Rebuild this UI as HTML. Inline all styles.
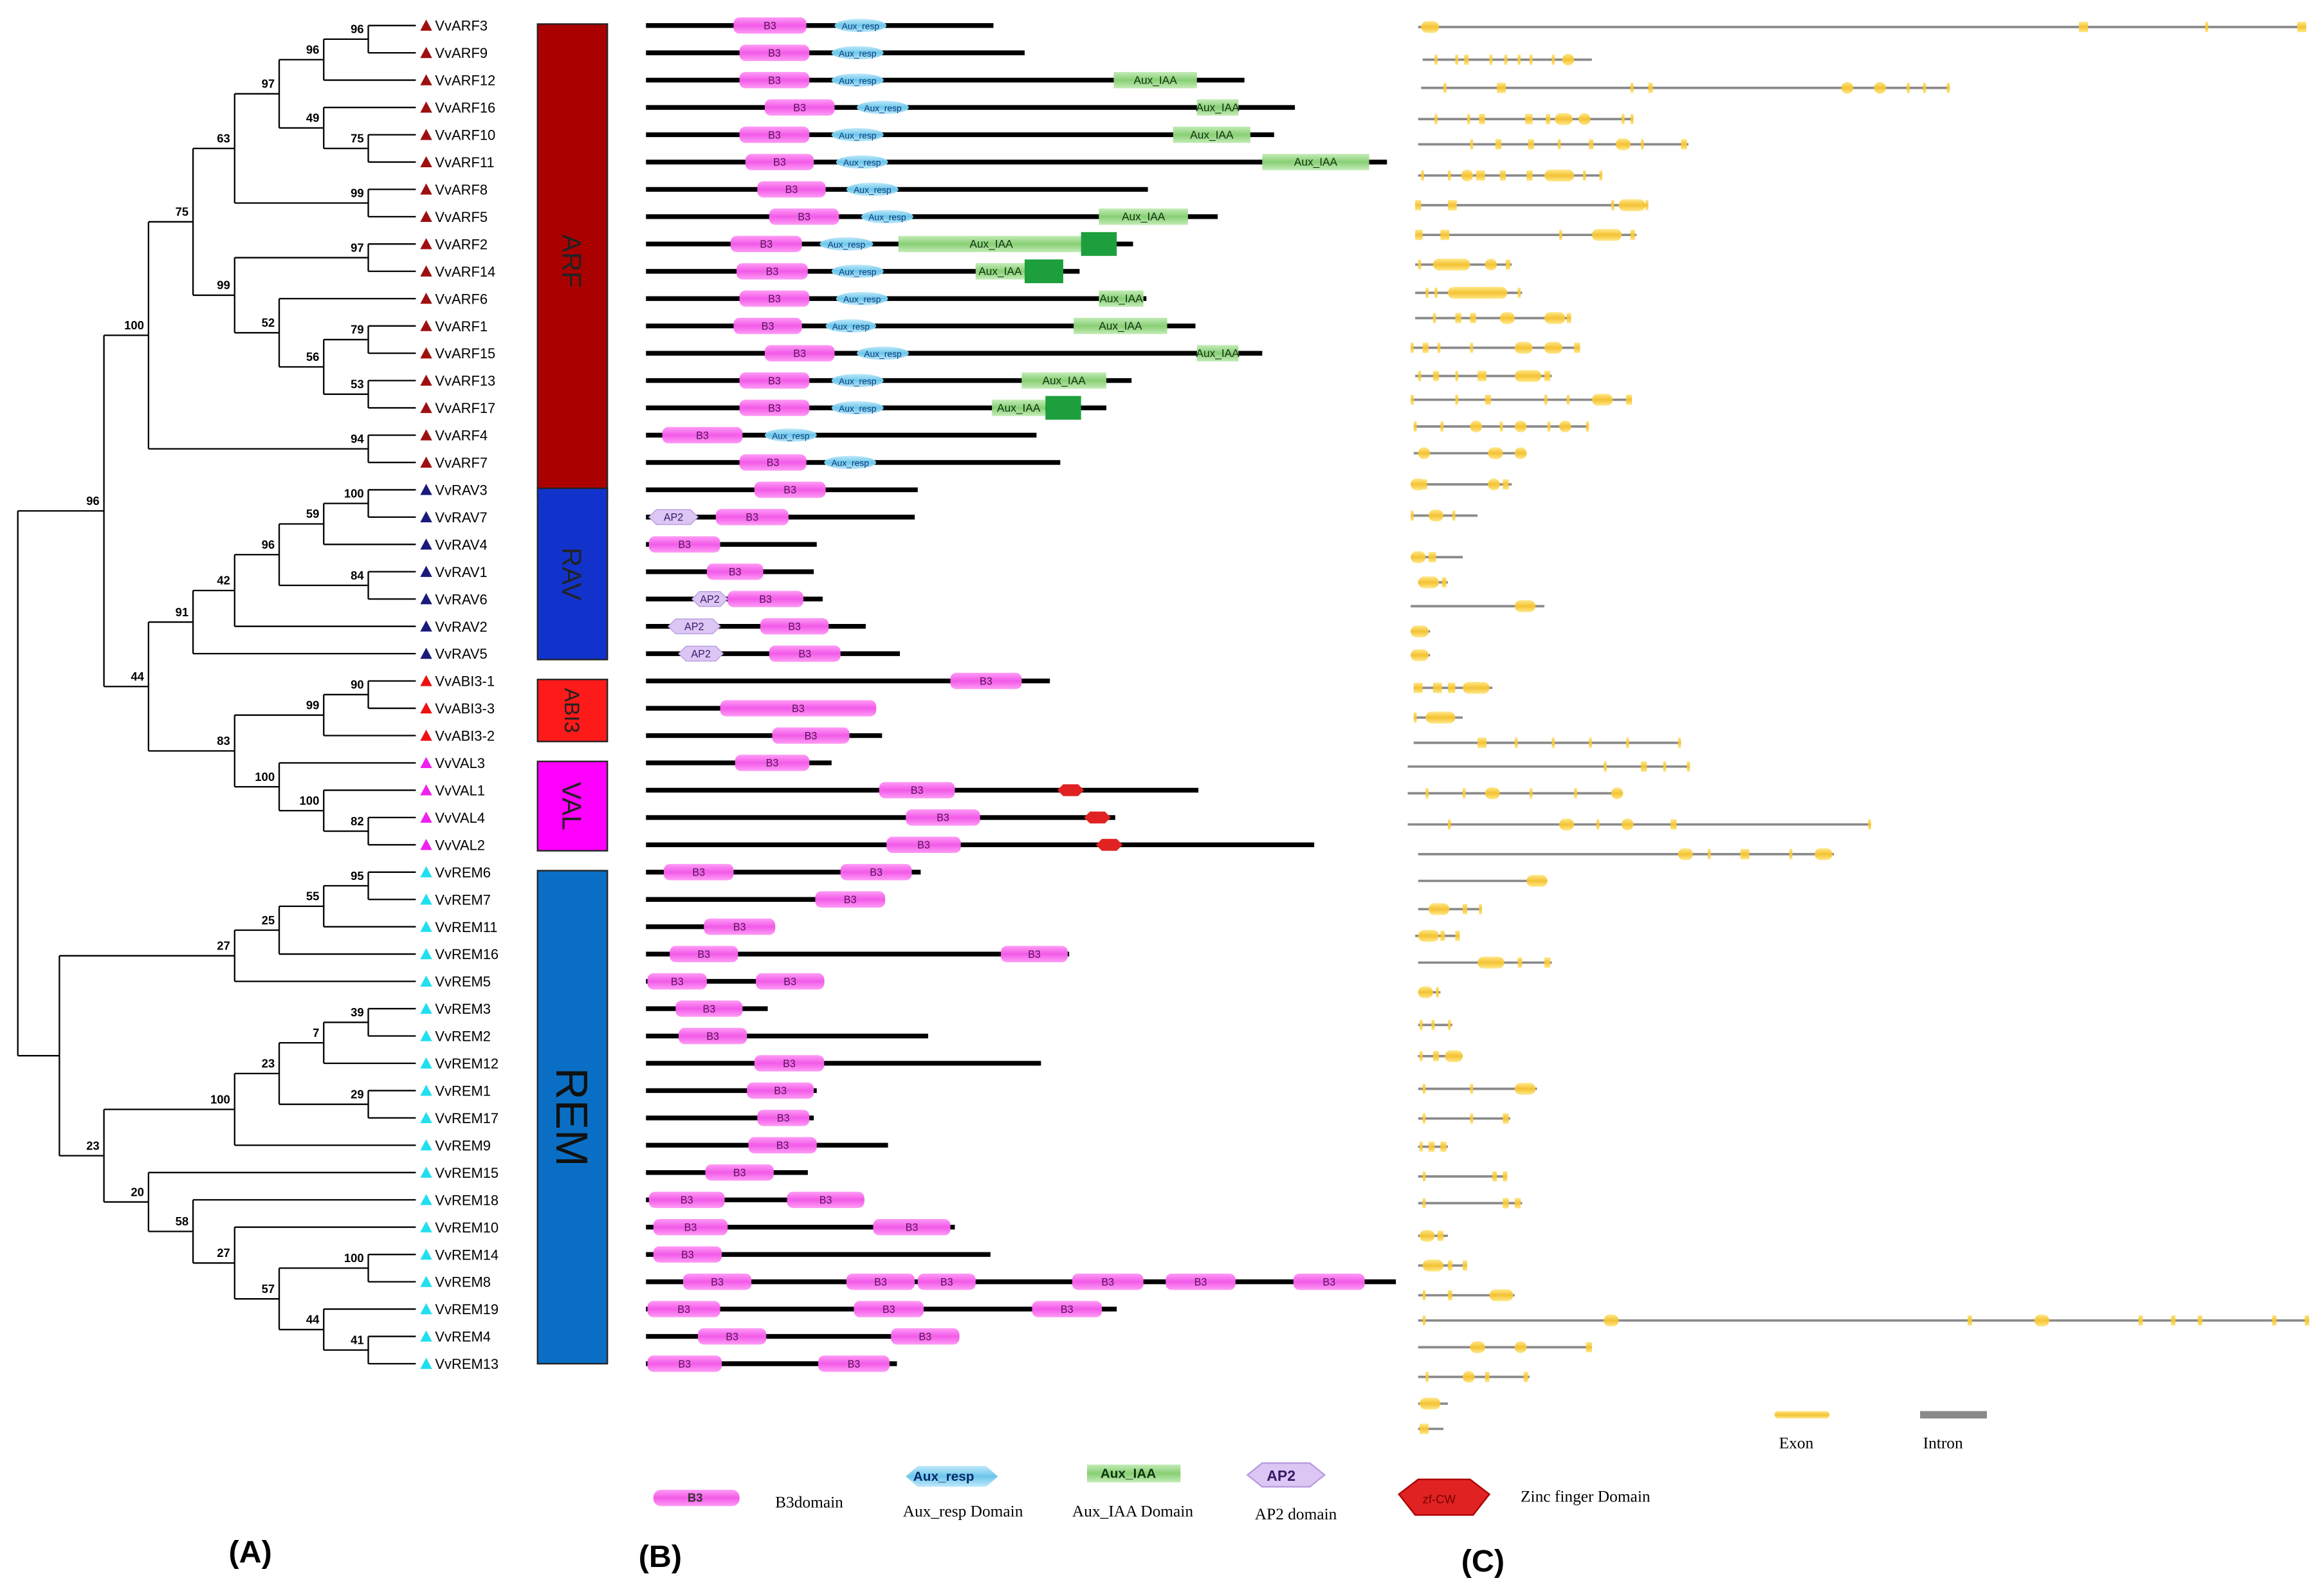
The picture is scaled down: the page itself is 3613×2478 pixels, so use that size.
<!DOCTYPE html>
<html><head><meta charset="utf-8"><style>
html,body{margin:0;padding:0;background:#fff}
svg{display:block}
text{font-family:"Liberation Sans",sans-serif}
</style></head><body>
<svg id="fig" width="3613" height="2478" viewBox="0 0 1565 1073" xmlns="http://www.w3.org/2000/svg">
<defs>
<linearGradient id="gB3" x1="0" y1="0" x2="0" y2="1"><stop offset="0" stop-color="#ff9cf6"/><stop offset="0.5" stop-color="#f25ae8"/><stop offset="1" stop-color="#ff9cf6"/></linearGradient>
<linearGradient id="gResp" x1="0" y1="0" x2="0" y2="1"><stop offset="0" stop-color="#bfe9fb"/><stop offset="0.5" stop-color="#6cc6ea"/><stop offset="1" stop-color="#bfe9fb"/></linearGradient>
<linearGradient id="gIAA" x1="0" y1="0" x2="0" y2="1"><stop offset="0" stop-color="#c4ecb8"/><stop offset="0.5" stop-color="#88cf74"/><stop offset="1" stop-color="#c4ecb8"/></linearGradient>
<linearGradient id="gEx" x1="0" y1="0" x2="0" y2="1"><stop offset="0" stop-color="#ffe98a"/><stop offset="0.5" stop-color="#f4c233"/><stop offset="1" stop-color="#ffe98a"/></linearGradient>
</defs>
<g id="tree"></g>
<g id="labels"></g>
<g id="groups"></g>
<g id="domains"></g>
<g id="structs"></g>
<g id="legend">
 <rect x="440" y="1003" width="58" height="11" rx="5" fill="url(#gB3)"/>
 <text x="463" y="1011" font-size="8" font-weight="bold" fill="#333">B3</text>
 <text x="522" y="1015" font-size="11" style="font-family:'Liberation Serif',serif">B3domain</text>
 <polygon points="610,994 618,987 664,987 672,994 664,1001 618,1001" fill="url(#gResp)"/>
 <text x="615" y="997" font-size="9" font-weight="bold" fill="#0a2a6a">Aux_resp</text>
 <text x="608" y="1021" font-size="11" style="font-family:'Liberation Serif',serif">Aux_resp Domain</text>
 <rect x="732" y="986" width="63" height="12" fill="url(#gIAA)"/>
 <text x="741" y="995" font-size="9" font-weight="bold" fill="#113311">Aux_IAA</text>
 <text x="722" y="1021" font-size="11" style="font-family:'Liberation Serif',serif">Aux_IAA Domain</text>
 <polygon points="840,993 850,985 882,985 892,993 882,1001 850,1001" fill="#dcc6f4" stroke="#b79ae0"/>
 <text x="853" y="997" font-size="10" font-weight="bold" fill="#3a1a6a">AP2</text>
 <text x="845" y="1023" font-size="11" style="font-family:'Liberation Serif',serif">AP2 domain</text>
 <polygon points="942,1006 955,996 990,996 1003,1006 992,1020 953,1020" fill="#e02222" stroke="#a00"/>
 <text x="958" y="1012" font-size="8" fill="#700">zf-CW</text>
 <text x="1024" y="1011" font-size="11" style="font-family:'Liberation Serif',serif">Zinc finger Domain</text>
 <rect x="1195" y="950" width="37" height="5" rx="2.5" fill="url(#gEx)"/>
 <text x="1198" y="975" font-size="11" style="font-family:'Liberation Serif',serif">Exon</text>
 <rect x="1293" y="950" width="45" height="5" fill="#8a8a8a"/>
 <text x="1295" y="975" font-size="11" style="font-family:'Liberation Serif',serif">Intron</text>
</g>
<text x="154" y="1052" font-size="21" font-weight="bold">(A)</text>
<text x="430" y="1055" font-size="21" font-weight="bold">(B)</text>
<text x="984" y="1058" font-size="21" font-weight="bold">(C)</text>
</svg>
<script>
const NS="http://www.w3.org/2000/svg";
const genes=["VvARF3","VvARF9","VvARF12","VvARF16","VvARF10","VvARF11","VvARF8","VvARF5","VvARF2","VvARF14","VvARF6","VvARF1","VvARF15","VvARF13","VvARF17","VvARF4","VvARF7",
"VvRAV3","VvRAV7","VvRAV4","VvRAV1","VvRAV6","VvRAV2","VvRAV5","VvABI3-1","VvABI3-3","VvABI3-2","VvVAL3","VvVAL1","VvVAL4","VvVAL2",
"VvREM6","VvREM7","VvREM11","VvREM16","VvREM5","VvREM3","VvREM2","VvREM12","VvREM1","VvREM17","VvREM9","VvREM15","VvREM18","VvREM10","VvREM14","VvREM8","VvREM19","VvREM4","VvREM13"];
const families=["ARF","RAV","ABI3","VAL","REM"];
const familySizes=[17,7,3,4,19];
const familyColors=["#ab0000","#1133cc","#ff1a1a","#ff00ff","#0a6fc4"];
const triColors=["#9e1010","#1a1a7a","#ee1111","#ee22ee","#22dfef"];
const protLen=[669,690,838,872,858,934,773,820,763,727,772,805,850,762,745,698,714,618,616,550,548,554,583,606,707,590,594,560,807,751,885,620,596,522,720,555,517,625,701,550,548,598,544,582,643,667,940,752,646,604];
const domainsList=[
[["B3",494,543],["R",562,597]],[["B3",498,545],["R",560,595]],[["B3",498,545],["R",560,595],["I",750,806]],
[["B3",515,562],["R",577,612],["I",806,834]],[["B3",498,545],["R",560,595],["I",790,842]],[["B3",502,548],["R",563,598],["I",850,922]],
[["B3",510,556],["R",570,605]],[["B3",518,565],["R",580,615],["I",740,800]],[["B3",492,540],["R",552,588],["I",605,730],["D",728,752]],
[["B3",496,544],["R",560,595],["I",657,690],["D",690,716]],[["B3",498,545],["R",563,598],["I",740,770]],[["B3",494,540],["R",556,590],["I",723,786]],
[["B3",515,562],["R",577,612],["I",806,834]],[["B3",498,545],["R",560,595],["I",688,745]],[["B3",498,545],["R",560,595],["I",668,704],["D",704,728]],
[["B3",446,500],["R",515,550]],[["B3",498,543],["R",555,590]],
[["B3",508,556]],[["A",437,470],["B3",482,531]],[["B3",437,485]],[["B3",476,514]],[["A",466,490],["B3",490,541]],[["A",450,485],["B3",512,558]],[["A",457,487],["B3",518,566]],
[["B3",640,688]],[["B3",485,590]],[["B3",520,572]],
[["B3",495,545]],[["B3",592,643],["Z",712,730]],[["B3",610,660],["Z",730,748]],[["B3",597,647],["Z",738,756]],
[["B3",447,494],["B3",566,614]],[["B3",549,596]],[["B3",474,522]],[["B3",451,497],["B3",674,719]],[["B3",436,476],["B3",509,555]],
[["B3",455,500]],[["B3",457,503]],[["B3",508,555]],[["B3",503,548]],[["B3",510,545]],[["B3",504,550]],[["B3",475,521]],
[["B3",437,488],["B3",530,582]],[["B3",440,490],["B3",588,640]],[["B3",440,486]],
[["B3",460,506],["B3",570,616],["B3",618,657],["B3",722,770],["B3",785,832],["B3",871,919]],
[["B3",436,485],["B3",575,622],["B3",695,742]],[["B3",470,516],["B3",600,646]],[["B3",436,486],["B3",551,599]]];
const gsStart=[955,958,957,955,955,955,953,953,953,953,953,950,953,950,952,952,950,950,950,955,950,950,950,952,952,952,948,948,948,955,955,955,953,955,955,955,955,955,955,955,955,955,955,955,955,955,955,955,955,955];
const gsEnd=[1553,1072,1312,1100,1137,1078,1110,1102,1018,1025,1058,1064,1045,1098,1070,1028,1018,995,985,975,1040,963,963,1005,985,1132,1138,1092,1260,1235,1042,998,983,1045,970,978,985,1035,1017,975,1015,1025,975,988,1020,1555,1072,1030,975,972];
const gsExons=[
[[957,12],[1400,6],[1485,2],[1547,6]],
[[966,2],[980,2],[986,3],[1003,2],[1013,2],[1022,2],[1030,2],[1045,2],[1052,8]],
[[972,2],[1008,6],[1098,2],[1110,3],[1240,8],[1262,8],[1284,2],[1295,2],[1311,2]],
[[966,2],[988,2],[996,4],[1027,5],[1041,3],[1047,12],[1063,8],[1092,2],[1098,2]],
[[990,2],[1007,4],[1029,4],[1049,2],[1070,3],[1088,10],[1105,2],[1132,4]],
[[957,2],[975,2],[984,8],[994,6],[1010,4],[1028,4],[1040,20],[1066,2],[1077,2]],
[[953,4],[975,6],[1085,2],[1090,18],[1108,2]],
[[953,5],[970,6],[1050,2],[1072,20],[1098,3]],
[[955,2],[965,25],[1000,8],[1014,3]],
[[960,2],[966,2],[975,40],[1022,2]],
[[965,2],[980,4],[990,4],[1010,10],[1040,14],[1055,3]],
[[950,2],[958,4],[968,2],[990,2],[1020,12],[1040,12],[1060,4]],
[[955,2],[965,4],[980,2],[995,6],[1020,18],[1040,4]],
[[950,2],[980,2],[1000,4],[1040,2],[1055,2],[1072,14],[1095,4]],
[[952,2],[970,2],[990,8],[1010,2],[1020,8],[1042,2],[1050,8],[1068,2]],
[[955,8],[1002,10],[1020,8]],
[[950,10],[958,3],[1002,8],[1012,4]],
[[950,2],[962,10],[978,2]],
[[950,10],[962,5]],
[[955,14],[971,3]],
[[1020,14]],
[[950,12]],
[[950,12]],
[[952,6],[965,6],[975,5],[985,18]],
[[952,2],[960,20]],
[[995,6],[1020,2],[1045,2],[1070,2],[1095,2],[1130,2]],
[[1080,2],[1105,4],[1120,2],[1136,2]],
[[960,2],[985,2],[1000,10],[1030,2],[1060,2],[1085,8]],
[[975,2],[1050,10],[1075,2],[1092,8],[1125,4],[1258,2]],
[[1130,10],[1150,2],[1172,6],[1205,2],[1222,12]],
[[1028,14]],
[[962,14],[985,3],[996,2]],
[[955,14],[970,3],[980,3]],
[[995,18],[1022,3],[1040,4]],
[[955,10],[967,2]],
[[956,2],[964,2],[975,2]],
[[956,2],[965,4],[973,12]],
[[958,2],[990,2],[1020,14]],
[[958,2],[990,2],[1012,4]],
[[956,2],[962,4],[970,4]],
[[958,2],[1005,3],[1012,3]],
[[958,2],[1012,4],[1020,4]],
[[956,10],[968,4]],
[[958,14],[975,3],[985,3]],
[[958,2],[975,3],[1003,16]],
[[958,2],[1080,10],[1325,3],[1370,10],[1440,3],[1462,3],[1480,3],[1530,3],[1552,3]],
[[990,10],[1020,8],[1068,4]],
[[960,2],[985,8],[1000,3],[1026,3]],
[[956,14]],
[[956,6]]];
const gsY=[18,40,59,80,97,118,138,158,178,197,214,234,253,269,287,305,326,347,375,392,408,425,441,463,483,500,516,534,555,575,593,612,630,648,668,690,711,733,753,772,792,810,832,852,872,889,907,927,945,962];

const rowY=i=>17+i*18.39;
function mk(tag,attrs,parent){const e=document.createElementNS(NS,tag);for(const k in attrs)e.setAttribute(k,attrs[k]);parent.appendChild(e);return e;}

function n(x,b,c){return {x:x,b:b,c:c};}
const T=n(12,'',[
 n(70,'96',[
  n(100,'100',[
   n(130,'75',[
    n(158,'63',[
     n(188,'97',[ n(218,'96',[n(248,'96',[0,1]),2]), n(218,'49',[3,n(248,'75',[4,5])]) ]),
     n(248,'99',[6,7]) ]),
    n(158,'99',[ n(248,'97',[8,9]), n(188,'52',[10, n(218,'56',[n(248,'79',[11,12]), n(248,'53',[13,14])])]) ]) ]),
   n(248,'94',[15,16]) ]),
  n(100,'44',[
   n(130,'91',[ n(158,'42',[ n(188,'96',[ n(218,'59',[n(248,'100',[17,18]),19]), n(248,'84',[20,21]) ]), 22 ]), 23 ]),
   n(158,'83',[ n(218,'99',[n(248,'90',[24,25]),26]), n(188,'100',[27, n(218,'100',[28, n(248,'82',[29,30])])]) ]) ]) ]),
 n(40,'',[
  n(158,'27',[ n(188,'25',[ n(218,'55',[n(248,'95',[31,32]),33]), 34]), 35 ]),
  n(70,'23',[
   n(158,'100',[ n(188,'23',[ n(218,'7',[n(248,'39',[36,37]),38]), n(248,'29',[39,40]) ]), 41 ]),
   n(100,'20',[42, n(130,'58',[43, n(158,'27',[44, n(188,'57',[ n(248,'100',[45,46]), n(218,'44',[47, n(248,'41',[48,49])]) ]) ]) ]) ]) ]) ]) ]);
const LEAFX=280;
const treeG=document.getElementById('tree');
function nodeY(nd){ if(typeof nd==='number') return rowY(nd); const ys=nd.c.map(nodeY); return (ys[0]+ys[ys.length-1])/2; }
function draw(nd){
 if(typeof nd==='number') return;
 const ys=nd.c.map(nodeY);
 const v=mk('line',{x1:nd.x,y1:ys[0],x2:nd.x,y2:ys[ys.length-1],stroke:'#000','stroke-width':1},treeG);
 
 
 nd.c.forEach((c,k)=>{
  const cx=typeof c==='number'?LEAFX:c.x;
  const h=mk('line',{x1:nd.x,y1:ys[k],x2:cx,y2:ys[k],stroke:'#000','stroke-width':1},treeG);
  
  
  draw(c);
 });
 if(nd.b){
  const t=mk('text',{x:nd.x-3,y:(ys[0]+ys[ys.length-1])/2-4,'font-size':8,'font-weight':'bold','text-anchor':'end'},treeG);
  t.textContent=nd.b;
  
  
 }
}
draw(T);

const labG=document.getElementById('labels');
let fam=[];familySizes.forEach((s,f)=>{for(let k=0;k<s;k++)fam.push(f);});
genes.forEach((g,i)=>{
 const y=rowY(i);
 const tr=mk('polygon',{points:`${283},${y+3.5} ${287},${y-4} ${291},${y+3.5}`,fill:triColors[fam[i]]},labG);
 
 
 const t=mk('text',{x:293,y:y+3.5,'font-size':9.5},labG);
 t.textContent=g;
 
 
});

const grpG=document.getElementById('groups');
let start=0;
familySizes.forEach((s,f)=>{
 const y0=rowY(start)-1, y1=rowY(start+s-1)+(f===0?24:(f===4?0:4));
 const r=mk('rect',{x:362,y:y0,width:47,height:y1-y0,fill:familyColors[f],stroke:'#222','stroke-width':1},grpG);
 
 
 const cy=(y0+y1)/2, fs=f===4?30:(f===2?14:18);
 const t=mk('text',{x:385,y:cy,'font-size':fs,'text-anchor':'middle','dominant-baseline':'central',transform:`rotate(90 385 ${cy})`,fill:f===4?'#111':'#222'},grpG);
 t.textContent=families[f];
 
 
 start+=s;
});

const domG=document.getElementById('domains');
genes.forEach((g,i)=>{
 const y=rowY(i);
 const l=mk('line',{x1:435,y1:y,x2:protLen[i],y2:y,stroke:'#000','stroke-width':3.2},domG);
 
 
 domainsList[i].forEach(d=>{
  const [tp,a,b]=d; let e,label='',col='#333',fs=7;
  if(tp==='B3'){e=mk('rect',{x:a,y:y-5.5,width:b-a,height:11,rx:4,fill:'url(#gB3)'},domG);label='B3';col='#551155';}
  else if(tp==='R'){e=mk('ellipse',{cx:(a+b)/2,cy:y,rx:(b-a)/2,ry:4.5,fill:'url(#gResp)'},domG);label='Aux_resp';col='#0a3a7a';fs=6;}
  else if(tp==='I'){e=mk('rect',{x:a,y:y-5.5,width:b-a,height:11,fill:'url(#gIAA)'},domG);label='Aux_IAA';col='#113311';fs=7.5;}
  else if(tp==='D'){e=mk('rect',{x:a,y:y-8,width:b-a,height:16,fill:'#1c9f3c'},domG);label='';}
  else if(tp==='A'){e=mk('polygon',{points:`${a},${y} ${a+5},${y-5} ${b-5},${y-5} ${b},${y} ${b-5},${y+5} ${a+5},${y+5}`,fill:'#dcc6f4',stroke:'#b79ae0','stroke-width':0.6},domG);label='AP2';col='#3a1a6a';}
  else if(tp==='Z'){e=mk('polygon',{points:`${a},${y} ${a+4},${y-4} ${b-4},${y-4} ${b},${y} ${b-4},${y+4} ${a+4},${y+4}`,fill:'#e02222'},domG);label='';}
  
  
  if(label && b-a>20){const t=mk('text',{x:(a+b)/2,y:y+2.5,'font-size':fs,'text-anchor':'middle',fill:col},domG);t.textContent=label;
   
   }
 });
});

const gsG=document.getElementById('structs');
gsY.forEach((y,i)=>{
 const l=mk('line',{x1:gsStart[i],y1:y,x2:gsEnd[i],y2:y,stroke:'#8a8a8a','stroke-width':1.6},gsG);
 
 
 gsExons[i].forEach(ex=>{
  const r=mk('rect',{x:ex[0],y:y-(ex[1]>6?4:3.5),width:ex[1],height:ex[1]>6?8:7,rx:ex[1]>6?4:0.5,fill:'url(#gEx)'},gsG);
  
  
 });
});
</script>
</body></html>
